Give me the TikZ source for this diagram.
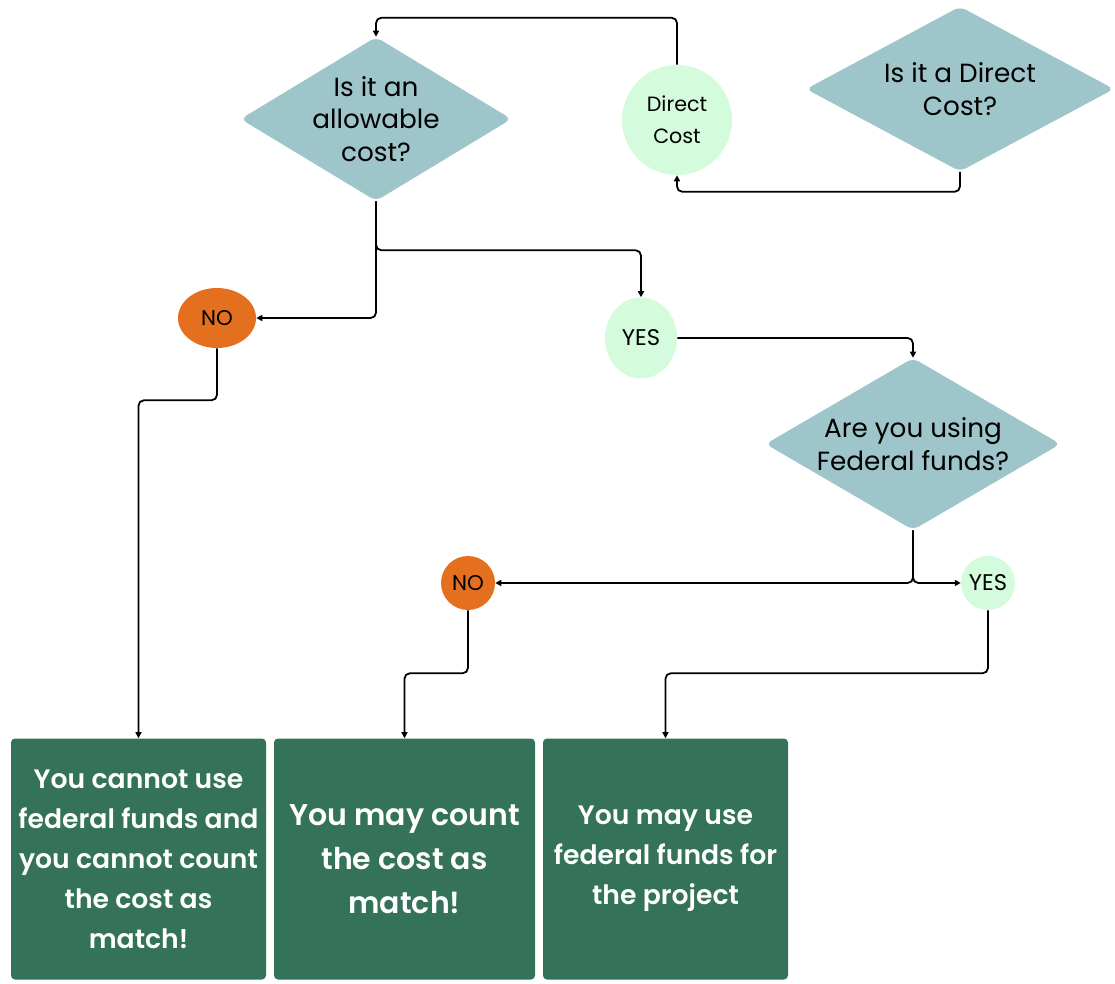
\documentclass[tikz,border=0pt]{standalone}
\usepackage{fontspec}
\setmainfont{Poppins}
\newfontfamily\boxfont{Poppins SemiBold}
\usepackage{tikz}
\usetikzlibrary{positioning,shapes.geometric,arrows.meta}
\definecolor{question}{HTML}{9EC5C9}
\definecolor{paleyes}{HTML}{D3FBDC}
\definecolor{rustno}{HTML}{E4701F}
\definecolor{verdict}{HTML}{34725A}

\begin{document}
\begin{tikzpicture}[x=0.75pt,y=-0.75pt,
    decision/.style={diamond, fill=question, rounded corners=5pt, inner sep=0pt},
    qtext/.style={align=center, font=\fontsize{19.7}{24.5}\selectfont},
    yesnode/.style={ellipse, fill=paleyes, inner sep=0pt, font=\fontsize{17}{24}\selectfont},
    nonode/.style={ellipse, fill=rustno, inner sep=0pt, font=\fontsize{16}{24}\selectfont},
    verdictbox/.style={rectangle, fill=verdict, rounded corners=3pt, text=white, align=center,
      minimum height=180.75pt, inner sep=0pt, font=\boxfont\fontsize{20}{30}\selectfont},
    link/.style={line width=1.35pt, rounded corners=4pt, -{Triangle[length=4.5pt,width=4.5pt]}}]
  \useasboundingbox (0,0) rectangle (1115,983);
  % questions
  \node[decision, minimum width=203.25pt, minimum height=123pt,
    label={[qtext]center:{Is it an\\allowable\\cost?}}] (allow) at (376,119) {};
  \node[decision, minimum width=231pt, minimum height=123.75pt,
    label={[qtext]center:{Is it a Direct\\Cost?}}] (isdirect) at (960,89) {};
  \node[decision, minimum width=221.25pt, minimum height=129pt,
    label={[qtext]center:{Are you using\\Federal funds?}}] (federal) at (913,444) {};
  % answers
  \node[yesnode, minimum size=82.5pt, align=center, font=\fontsize{15.5}{24}\selectfont] (direct) at (677,120) {Direct\\Cost};
  \node[nonode, minimum width=58.5pt, minimum height=45pt] (no1) at (217,318) {NO};
  \node[yesnode, minimum width=54pt, minimum height=60.75pt] (yes1) at (641,338) {YES};
  \node[nonode, minimum size=40.5pt] (no2) at (468,583) {NO};
  \node[yesnode, minimum width=39pt, minimum height=40.5pt] (yes2) at (988,583) {YES};
  % results
  \node[verdictbox, minimum width=191.25pt] (box1) at (138.5,859)
    {You cannot use\\federal funds and\\you cannot count\\the cost as\\match!};
  \node[verdictbox, minimum width=195.75pt, font=\boxfont\fontsize{22.5}{33}\selectfont,
    on grid, right=199.5pt of box1] (box2) {You may count\\the cost as\\match!};
  \node[verdictbox, minimum width=183.75pt, on grid, right=195.75pt of box2] (box3)
    {You may use\\federal funds for\\the project};
  % connectors
  \draw[link] (direct.north) -- ++(0,-47) -| (allow.north);
  \draw[link] (isdirect.south) -- ++(0,20) -| (direct.south);
  \draw[link] (allow.south) |- (no1.east);
  \draw[link] (allow.south) -- ++(0,49) -| (yes1.north);
  \draw[link] (yes1.east) -| (federal.north);
  \draw[link] (federal.south) |- (no2.east);
  \draw[link] (federal.south) |- (yes2.west);
  \draw[link] (no1.south) -- ++(0,52) -| (box1.north);
  \draw[link] (no2.south) -- ++(0,63) -| (box2.north);
  \draw[link] (yes2.south) -- ++(0,63) -| (box3.north);
\end{tikzpicture}
\end{document}
